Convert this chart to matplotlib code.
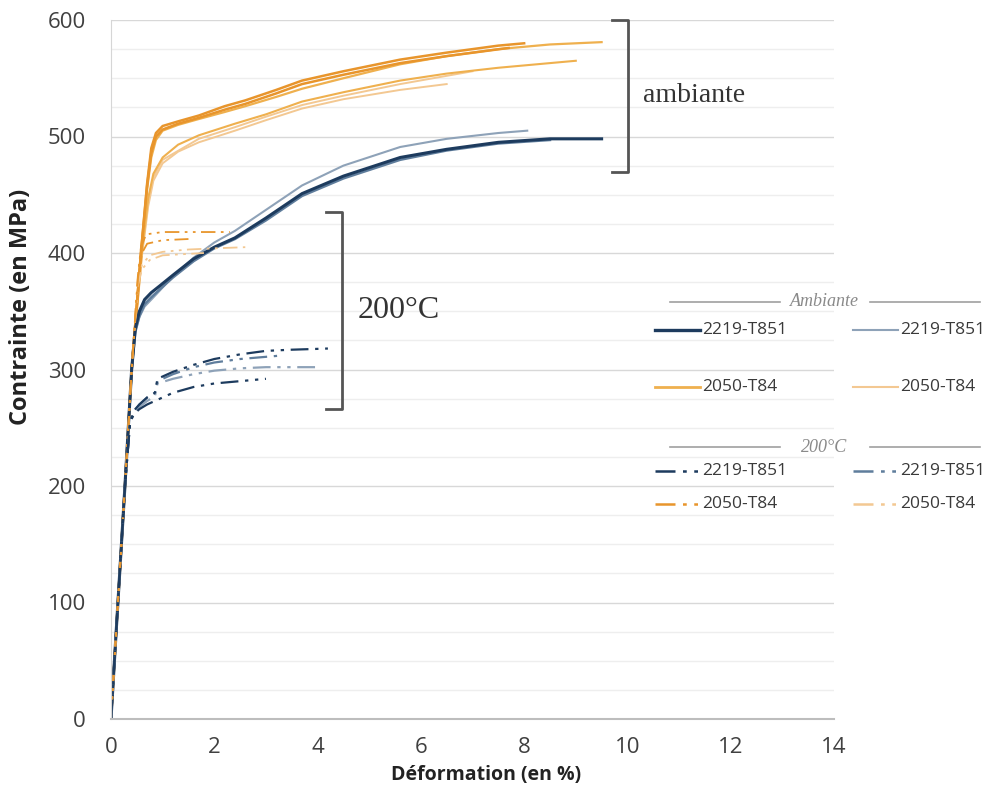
import matplotlib
matplotlib.use('Agg')
import matplotlib.pyplot as plt
from matplotlib.lines import Line2D
from matplotlib.ticker import MultipleLocator

plt.rcParams['font.family'] = ['Open Sans', 'DejaVu Sans']

# --- essais a temperature ambiante, 2050-T84 ---
a50_1_x = [0, 0.1, 0.27, 0.4, 0.58, 0.7, 0.78, 0.87, 1.0, 1.3, 1.7, 2.2, 2.6, 3.2, 3.7, 4.5, 5.6, 6.5, 7.5, 8.0]
a50_1_y = [0, 75, 200, 300, 400, 460, 490, 503, 509, 513, 518, 526, 531, 540, 548, 556, 566, 572, 578, 580]
a50_2_x = [0, 0.1, 0.27, 0.4, 0.58, 0.7, 0.78, 0.87, 1.0, 1.3, 1.7, 2.2, 2.6, 3.2, 3.7, 4.5, 5.6, 6.5, 7.7]
a50_2_y = [0, 75, 200, 300, 400, 458, 486, 500, 506, 511, 516, 523, 528, 537, 545, 553, 563, 569, 576]
a50_3_x = [0, 0.1, 0.27, 0.4, 0.58, 0.7, 0.78, 0.87, 1.0, 1.3, 1.7, 2.2, 2.6, 3.2, 3.7, 4.5, 5.6, 6.5, 7.5, 8.5, 9.5]
a50_3_y = [0, 75, 200, 300, 400, 455, 482, 497, 505, 510, 515, 521, 526, 534, 541, 550, 562, 569, 575, 579, 581]
a50_4_x = [0, 0.1, 0.27, 0.4, 0.6, 0.72, 0.82, 1.0, 1.3, 1.7, 2.4, 3.0, 3.7, 4.5, 5.6, 6.5, 7.5, 8.5, 9.0]
a50_4_y = [0, 75, 200, 300, 402, 447, 468, 482, 493, 501, 511, 519, 530, 538, 548, 554, 559, 563, 565]
a50_5_x = [0, 0.1, 0.27, 0.4, 0.6, 0.72, 0.82, 1.0, 1.3, 1.7, 2.4, 3.0, 3.7, 4.5, 5.6, 6.5]
a50_5_y = [0, 75, 200, 300, 398, 440, 462, 477, 487, 495, 505, 514, 524, 532, 540, 545]
a50_6_x = [0, 0.1, 0.27, 0.4, 0.6, 0.72, 0.82, 1.0, 1.7, 2.4, 3.0, 3.7, 4.5, 5.6, 7.0]
a50_6_y = [0, 75, 200, 300, 400, 443, 465, 480, 498, 508, 517, 527, 535, 545, 556]

# --- essais a temperature ambiante, 2219-T851 ---
a19_1_x = [0, 0.1, 0.27, 0.4, 0.47, 0.55, 0.65, 0.78, 0.95, 1.2, 1.6, 2.0, 2.4, 3.0, 3.7, 4.5, 5.6, 6.5, 7.5, 8.5, 9.5]
a19_1_y = [0, 75, 200, 300, 335, 350, 360, 366, 372, 381, 395, 405, 413, 430, 451, 466, 482, 489, 495, 498, 498]
a19_2_x = [0, 0.1, 0.27, 0.4, 0.47, 0.55, 0.65, 0.78, 0.95, 1.2, 1.6, 2.0, 2.4, 3.0, 3.7, 4.5, 5.6, 6.5, 7.5, 8.5]
a19_2_y = [0, 75, 200, 300, 332, 346, 356, 362, 369, 379, 393, 404, 412, 428, 449, 464, 480, 488, 494, 497]
a19_3_x = [0, 0.1, 0.27, 0.4, 0.47, 0.55, 0.65, 0.78, 0.95, 1.2, 1.6, 2.0, 2.4, 3.0, 3.7, 4.5, 5.6, 6.5, 7.5, 8.06]
a19_3_y = [0, 75, 200, 300, 333, 345, 354, 360, 368, 380, 396, 409, 419, 437, 458, 475, 491, 498, 503, 505]

# --- essais a 200°C, 2219-T851 ---
c19_1_x = [0, 0.1, 0.27, 0.37, 0.45, 0.55, 0.7, 0.85, 0.9, 1.2, 1.6, 2.0, 2.5, 3.0, 3.5, 4.2]
c19_1_y = [0, 75, 200, 255, 265, 270, 276, 280, 292, 298, 304, 309, 313, 316, 317, 318]
c19_2_x = [0, 0.1, 0.27, 0.37, 0.45, 0.55, 0.7, 0.85, 0.9, 1.2, 1.6, 2.0, 2.5, 3.0, 4.0]
c19_2_y = [0, 75, 200, 255, 263, 268, 273, 277, 288, 292, 296, 299, 301, 302, 302]
c19_3_x = [0, 0.1, 0.27, 0.37, 0.45, 0.55, 0.7, 0.9, 1.2, 1.6, 2.0, 2.5, 3.0]
c19_3_y = [0, 75, 200, 255, 262, 266, 270, 274, 280, 285, 288, 290, 292]
c19_4_x = [0, 0.1, 0.27, 0.37, 0.45, 0.55, 0.7, 0.85, 0.9, 1.2, 1.6, 2.0, 2.5, 3.3]
c19_4_y = [0, 75, 200, 255, 264, 270, 276, 280, 290, 296, 302, 306, 309, 312]

# --- essais a 200°C, 2050-T84 ---
c50_1_x = [0, 0.1, 0.27, 0.4, 0.52, 0.58, 0.68, 1.0, 1.5, 2.0, 2.3]
c50_1_y = [0, 75, 200, 300, 380, 405, 416, 418, 418, 418, 418]
c50_2_x = [0, 0.1, 0.27, 0.4, 0.52, 0.6, 0.75, 1.0, 1.5, 2.0, 2.6]
c50_2_y = [0, 75, 200, 300, 375, 390, 398, 401, 403, 404, 405]
c50_3_x = [0, 0.1, 0.27, 0.4, 0.52, 0.6, 0.7, 1.0, 1.5]
c50_3_y = [0, 75, 200, 300, 378, 400, 408, 411, 412]
c50_4_x = [0, 0.1, 0.27, 0.4, 0.52, 0.6, 0.75, 1.0, 1.8]
c50_4_y = [0, 75, 200, 300, 372, 386, 394, 398, 400]

x_ticks = [0, 2, 4, 6, 8, 10, 12, 14]
y_ticks = [0, 100, 200, 300, 400, 500, 600]

NAVY = '#1d3b5e'
BLUE_LT = '#8ea2b8'
BLUE_MID = '#5f7d9c'
ORANGE = '#e8952c'
ORANGE_MID = '#efb04e'
ORANGE_LT = '#f3c892'
DDOT = (0, (8, 3, 1.5, 3, 1.5, 3))

W, H = 990, 796
fig = plt.figure(figsize=(W / 100, H / 100), dpi=100)
ax = fig.add_axes([111 / W, 1 - 719 / H, (834 - 111) / W, (719 - 20) / H])

# courbes ambiante
ax.plot(a50_6_x, a50_6_y, color=ORANGE_LT, lw=1.4)
ax.plot(a50_5_x, a50_5_y, color=ORANGE_LT, lw=1.4)
ax.plot(a50_4_x, a50_4_y, color=ORANGE_MID, lw=1.5)
ax.plot(a50_3_x, a50_3_y, color=ORANGE_MID, lw=1.6)
ax.plot(a50_2_x, a50_2_y, color=ORANGE, lw=1.8)
ax.plot(a50_1_x, a50_1_y, color=ORANGE, lw=1.8)
ax.plot(a19_3_x, a19_3_y, color=BLUE_LT, lw=1.5)
ax.plot(a19_2_x, a19_2_y, color=BLUE_MID, lw=1.8)
ax.plot(a19_1_x, a19_1_y, color=NAVY, lw=2.2)

# courbes 200°C
ax.plot(c50_4_x, c50_4_y, color=ORANGE_LT, lw=1.3, ls=DDOT)
ax.plot(c50_2_x, c50_2_y, color=ORANGE_LT, lw=1.3, ls=DDOT)
ax.plot(c50_3_x, c50_3_y, color=ORANGE, lw=1.3, ls=DDOT)
ax.plot(c50_1_x, c50_1_y, color=ORANGE, lw=1.3, ls=DDOT)
ax.plot(c19_4_x, c19_4_y, color=BLUE_MID, lw=1.6, ls=DDOT)
ax.plot(c19_2_x, c19_2_y, color=BLUE_LT, lw=1.6, ls=DDOT)
ax.plot(c19_3_x, c19_3_y, color=NAVY, lw=1.6, ls=DDOT)
ax.plot(c19_1_x, c19_1_y, color=NAVY, lw=1.6, ls=DDOT)

ax.set_xlim(0, 14)
ax.set_ylim(0, 600)
ax.set_xticks(x_ticks)
ax.set_yticks(y_ticks)
ax.yaxis.set_minor_locator(MultipleLocator(25))
ax.grid(axis='y', which='major', color='#d8d8d8', lw=1.0)
ax.grid(axis='y', which='minor', color='#eeeeee', lw=1.0)
ax.set_axisbelow(True)
ax.tick_params(which='both', length=0)
ax.tick_params(axis='y', labelsize=16, colors='#404040', pad=18)
ax.tick_params(axis='x', labelsize=16, colors='#404040', pad=13)
for s in ['top', 'right']:
    ax.spines[s].set_visible(False)
ax.spines['left'].set_color('#d6d6d6')
ax.spines['bottom'].set_color('#bdbdbd')
ax.spines['bottom'].set_linewidth(1.5)

ax.set_xlabel('Déformation (en %)', fontsize=14, fontweight='bold', color='#222222')
ax.set_ylabel('Contrainte (en MPa)', fontsize=17, fontweight='bold', color='#222222')
ax.xaxis.set_label_coords(0.519, -0.066)
ax.yaxis.set_label_coords(-0.108, 0.589)

# accolades
BR = '#555555'
ax.plot([9.71, 10.02, 10.02, 9.71], [600, 600, 469.5, 469.5], color=BR, lw=2, clip_on=False)
ax.plot([4.17, 4.48, 4.48, 4.17], [435, 435, 266, 266], color=BR, lw=2, clip_on=False)
ax.text(10.3, 535, 'ambiante', fontsize=20, family='Liberation Serif', color='#333333', va='center')
ax.text(4.78, 351, '200°C', fontsize=23, family='Liberation Serif', color='#333333', va='center')


# legende construite a la main (pixels de la figure)
def fx(px):
    return px / W


def fy(py):
    return 1 - py / H


def leg_line(x0, x1, py, color, lw, ls='-'):
    fig.add_artist(Line2D([fx(x0), fx(x1)], [fy(py), fy(py)], transform=fig.transFigure,
                          color=color, lw=lw, ls=ls))


def leg_text(px, py, s, **kw):
    fig.text(fx(px), fy(py), s, va='center', fontsize=12.5, color='#3a3a3a', **kw)


def leg_header(py, s):
    leg_line(670, 780, py, '#a0a0a0', 1.2)
    leg_line(870, 980, py, '#a0a0a0', 1.2)
    fig.text(fx(824), fy(py), s, ha='center', va='center', fontsize=13, style='italic',
             color='#8a8a8a', family='Liberation Serif')


leg_header(302, 'Ambiante')
leg_line(655, 700, 330, NAVY, 2.4)
leg_text(702, 330, '2219-T851')
leg_line(853, 898, 330, BLUE_LT, 1.5)
leg_text(900, 330, '2219-T851')
leg_line(655, 700, 387, ORANGE_MID, 2.0)
leg_text(702, 387, '2050-T84')
leg_line(853, 898, 387, ORANGE_LT, 1.5)
leg_text(900, 387, '2050-T84')

leg_header(447, '200°C')
leg_line(655, 700, 471, NAVY, 1.8, DDOT)
leg_text(702, 471, '2219-T851')
leg_line(853, 898, 471, BLUE_MID, 1.8, DDOT)
leg_text(900, 471, '2219-T851')
leg_line(655, 700, 504, ORANGE, 1.8, DDOT)
leg_text(702, 504, '2050-T84')
leg_line(853, 898, 504, ORANGE_LT, 1.8, DDOT)
leg_text(900, 504, '2050-T84')

fig.savefig('out.png', dpi=100)
